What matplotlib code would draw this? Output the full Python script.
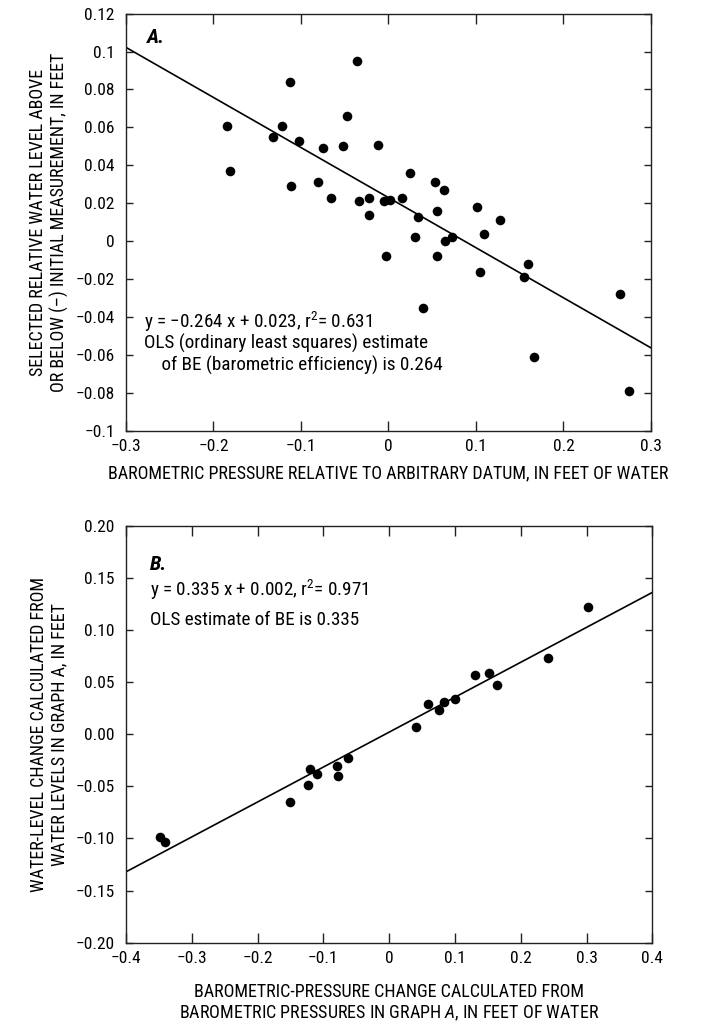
import numpy as np
import matplotlib
matplotlib.use("Agg")
import matplotlib.pyplot as plt
from matplotlib import font_manager
from matplotlib.ticker import FuncFormatter

# pick a narrow sans face if one is installed
fonts = font_manager.fontManager.ttflist
names = {f.name for f in fonts}
stretch = "normal"
if "Liberation Sans Narrow" in names:
    face = "Liberation Sans Narrow"
elif "Roboto Condensed" in names:
    face = "Roboto Condensed"
elif any(f.name == "DejaVu Sans" and "condensed" in str(f.stretch) for f in fonts):
    face = "DejaVu Sans"
    stretch = "condensed"
else:
    face = "Liberation Sans"

plt.rcParams["font.family"] = [face, "DejaVu Sans"]
plt.rcParams["font.stretch"] = stretch
plt.rcParams["mathtext.fontset"] = "custom"
plt.rcParams["mathtext.rm"] = face
plt.rcParams["mathtext.it"] = face + ":italic"
plt.rcParams["axes.unicode_minus"] = True

# Graph A: barometric pressure vs. relative water level
baro_a = [-0.185, -0.181, -0.132, -0.122, -0.113, -0.111, -0.102, -0.080,
          -0.075, -0.066, -0.052, -0.047, -0.036, -0.034, -0.022, -0.022,
          -0.012, -0.003, -0.005, 0.002, 0.015, 0.025, 0.053, 0.064,
          0.056, 0.034, 0.030, 0.055, 0.065, 0.073, 0.101, 0.127,
          0.109, 0.105, 0.160, 0.155, 0.265, 0.039, 0.166, 0.275]
water_a = [0.061, 0.037, 0.055, 0.061, 0.084, 0.029, 0.053, 0.031,
           0.049, 0.023, 0.050, 0.066, 0.095, 0.021, 0.023, 0.014,
           0.051, -0.008, 0.021, 0.022, 0.023, 0.036, 0.031, 0.027,
           0.016, 0.013, 0.002, -0.008, 0.000, 0.002, 0.018, 0.011,
           0.004, -0.016, -0.012, -0.019, -0.028, -0.035, -0.061, -0.079]
slope_a, icept_a, r2_a = -0.264, 0.023, 0.631

# Graph B: changes computed from graph A
baro_b = [-0.348, -0.340, -0.150, -0.124, -0.121, -0.109, -0.080, -0.077,
          -0.063, 0.041, 0.059, 0.076, 0.083, 0.100, 0.131, 0.152,
          0.164, 0.241, 0.302]
water_b = [-0.099, -0.103, -0.065, -0.049, -0.033, -0.038, -0.030, -0.040,
           -0.023, 0.007, 0.029, 0.023, 0.031, 0.034, 0.057, 0.059,
           0.047, 0.073, 0.122]
slope_b, icept_b, r2_b = 0.335, 0.002, 0.971

TICK_FS = 12.5
LABEL_FS = 13
NOTE_FS = 13.8


def trim_fmt(v, pos):
    s = f"{v:.2f}".rstrip("0").rstrip(".")
    if s in ("-0", ""):
        s = "0"
    return s.replace("-", "\u2212")


def fixed_fmt(v, pos):
    s = f"{v:.2f}"
    if s == "-0.00":
        s = "0.00"
    return s.replace("-", "\u2212")


def style_axes(ax):
    for sp in ax.spines.values():
        sp.set_linewidth(1.0)
        sp.set_color("#222222")
    ax.tick_params(axis="x", direction="in", length=7.5, width=1.0,
                   top=True, labelsize=TICK_FS, pad=6, color="#222222")
    ax.tick_params(axis="y", direction="in", length=4.8, width=1.0,
                   right=True, labelsize=TICK_FS, pad=8, color="#222222")


fig = plt.figure(figsize=(7.03, 10.31), dpi=100)

# ---- graph A ----
ax1 = fig.add_axes([0.1792, 0.582, 0.7468, 0.4048])
ax1.scatter(baro_a, water_a, s=48, color="black", zorder=3, linewidths=0)
xa = np.array([-0.3, 0.3])
ax1.plot(xa, slope_a * xa + icept_a, color="black", lw=1.2)
ax1.set_xlim(-0.3, 0.3)
ax1.set_ylim(-0.1, 0.12)
ax1.set_xticks(np.arange(-0.3, 0.31, 0.1))
ax1.set_yticks(np.arange(-0.1, 0.121, 0.02))
ax1.xaxis.set_major_formatter(FuncFormatter(trim_fmt))
ax1.yaxis.set_major_formatter(FuncFormatter(trim_fmt))
style_axes(ax1)
ax1.set_xlabel("BAROMETRIC PRESSURE RELATIVE TO ARBITRARY DATUM, IN FEET OF WATER",
               fontsize=LABEL_FS, labelpad=7)
ax1.set_ylabel("SELECTED RELATIVE WATER LEVEL ABOVE\n"
               "OR BELOW (\u2013) INITIAL MEASUREMENT, IN FEET",
               fontsize=LABEL_FS, labelpad=5, linespacing=1.2)
ax1.text(0.04, 0.965, "A.", transform=ax1.transAxes, fontsize=15,
         fontweight="bold", fontstyle="italic", va="top")
ax1.text(0.035, 0.262,
         f"y = \u2212{abs(slope_a):.3f} x + {icept_a:.3f}, r$^{{2}}$= {r2_a:.3f}",
         transform=ax1.transAxes, fontsize=NOTE_FS, va="center")
ax1.text(0.035, 0.209, "OLS (ordinary least squares) estimate",
         transform=ax1.transAxes, fontsize=NOTE_FS, va="center")
ax1.text(0.035, 0.156, f"    of BE (barometric efficiency) is {abs(slope_a):.3f}",
         transform=ax1.transAxes, fontsize=NOTE_FS, va="center")

# ---- graph B ----
ax2 = fig.add_axes([0.1792, 0.0856, 0.7487, 0.4045])
ax2.scatter(baro_b, water_b, s=48, color="black", zorder=3, linewidths=0)
xb = np.array([-0.4, 0.4])
ax2.plot(xb, slope_b * xb + icept_b, color="black", lw=1.2)
ax2.set_xlim(-0.4, 0.4)
ax2.set_ylim(-0.2, 0.2)
ax2.set_xticks(np.arange(-0.4, 0.41, 0.1))
ax2.set_yticks(np.arange(-0.2, 0.201, 0.05))
ax2.xaxis.set_major_formatter(FuncFormatter(trim_fmt))
ax2.yaxis.set_major_formatter(FuncFormatter(fixed_fmt))
style_axes(ax2)
ax2.set_xlabel("BAROMETRIC-PRESSURE CHANGE CALCULATED FROM\n"
               "BAROMETRIC PRESSURES IN GRAPH $\\it{A}$, IN FEET OF WATER",
               fontsize=LABEL_FS, labelpad=12, linespacing=1.2)
ax2.set_ylabel("WATER-LEVEL CHANGE CALCULATED FROM\n"
               "WATER LEVELS IN GRAPH A, IN FEET",
               fontsize=LABEL_FS, labelpad=5, linespacing=1.2)
ax2.text(0.045, 0.93, "B.", transform=ax2.transAxes, fontsize=15,
         fontweight="bold", fontstyle="italic", va="top")
ax2.text(0.045, 0.846,
         f"y = {slope_b:.3f} x + {icept_b:.3f}, r$^{{2}}$= {r2_b:.3f}",
         transform=ax2.transAxes, fontsize=NOTE_FS, va="center")
ax2.text(0.045, 0.774, f"OLS estimate of BE is {slope_b:.3f}",
         transform=ax2.transAxes, fontsize=NOTE_FS, va="center")

fig.savefig("out.png", dpi=100)
plt.close(fig)
